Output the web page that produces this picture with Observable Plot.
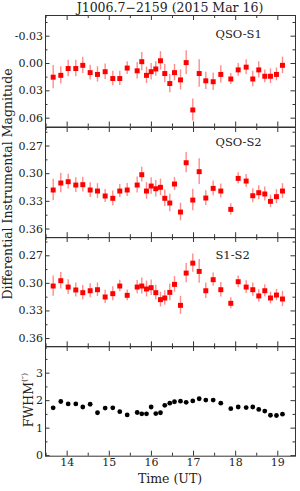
<!DOCTYPE html>
<html>
<head>
<meta charset="utf-8">
<script src="https://cdn.jsdelivr.net/npm/d3@7"></script>
<script src="https://cdn.jsdelivr.net/npm/@observablehq/plot@0.6"></script>
<style>
  html, body { margin: 0; padding: 0; background: #fff; }
  #chart { position: relative; width: 300px; height: 491px; font-family: "DejaVu Serif", serif; color: #222; overflow: hidden; }
  #chart svg { position: absolute; left: 0; overflow: visible; }
  .title { position: absolute; top: 0px; left: 45px; width: 250px; text-align: center; font-size: 12.5px; line-height: 15px; white-space: nowrap; }
  .ylab { position: absolute; white-space: nowrap; transform: translate(-50%, -50%) rotate(-90deg); font-size: 12.5px; line-height: 14px; }
  .xlab { position: absolute; left: 45px; width: 250px; text-align: center; font-size: 12.5px; top: 471.5px; line-height: 13px; }
</style>
</head>
<body>
<div id="chart">
  <div class="title">J1006.7−2159 (2015 Mar 16)</div>
  <div class="ylab" style="left:8px; top:184px;">Differential Instrumental Magnitude</div>
  <div class="ylab" style="left:27px; top:400px;">FWHM<sup style="font-size:8px;">(″)</sup></div>
  <div class="xlab">Time (UT)</div>
</div>
<script>
// ---- data ----
const times = [13.668, 13.849, 14.024, 14.205, 14.371, 14.546, 14.720, 14.902, 15.083, 15.249,
  15.425, 15.662, 15.771, 15.883, 15.994, 16.104, 16.215, 16.317, 16.436, 16.548,
  16.690, 16.825, 16.982, 17.134, 17.291, 17.466, 17.647, 17.884, 18.060, 18.249,
  18.406, 18.548, 18.691, 18.826, 18.968, 19.111];

const qsoS1 = [0.015, 0.013, 0.0055, 0.0055, 0.002, 0.010, 0.012, 0.009, 0.0165, 0.0165,
  0.005, 0.008, -0.002, 0.013, 0.009, 0.006, -0.003, 0.011, 0.022, 0.010,
  0.018, -0.001, 0.051, 0.011, 0.019, 0.020, 0.012, 0.017, 0.007, 0.004,
  0.017, 0.007, 0.014, 0.014, 0.012, 0.002];
const qsoS1Err = [0.0128, 0.0095, 0.009, 0.009, 0.009, 0.008, 0.0085, 0.0085, 0.008, 0.008,
  0.007, 0.009, 0.010, 0.009, 0.009, 0.008, 0.010, 0.010, 0.010, 0.009,
  0.011, 0.013, 0.012, 0.015, 0.0095, 0.0095, 0.0095, 0.006, 0.007, 0.008,
  0.0085, 0.009, 0.007, 0.008, 0.007, 0.009];

const qsoS2 = [0.3177, 0.3101, 0.3087, 0.3123, 0.3119, 0.3177, 0.3188, 0.3242, 0.3267, 0.3188,
  0.3177, 0.3123, 0.3011, 0.3188, 0.3134, 0.3163, 0.3148, 0.3267, 0.3318, 0.3112,
  0.3416, 0.2881, 0.3286, 0.2978, 0.3264, 0.3159, 0.3188, 0.3387, 0.3051, 0.3080,
  0.3239, 0.3206, 0.3220, 0.3300, 0.3249, 0.3188];
const qsoS2Err = [0.0116, 0.0105, 0.008, 0.008, 0.008, 0.008, 0.008, 0.007, 0.008, 0.007,
  0.007, 0.0087, 0.008, 0.009, 0.009, 0.009, 0.009, 0.009, 0.0095, 0.007,
  0.0095, 0.011, 0.0117, 0.014, 0.008, 0.008, 0.0076, 0.006, 0.006, 0.007,
  0.0076, 0.0076, 0.0076, 0.0067, 0.0076, 0.008];

const s1s2 = [0.3029, 0.2971, 0.3040, 0.3072, 0.3101, 0.3080, 0.3069, 0.3148, 0.3112, 0.3029,
  0.3130, 0.3040, 0.3029, 0.3061, 0.3047, 0.3101, 0.3177, 0.3159, 0.3098, 0.3011,
  0.3239, 0.2888, 0.2780, 0.2870, 0.3080, 0.2960, 0.3069, 0.3217, 0.2982, 0.3040,
  0.3069, 0.3137, 0.3080, 0.3159, 0.3127, 0.3170];
const s1s2Err = [0.011, 0.009, 0.008, 0.0076, 0.0078, 0.0076, 0.0074, 0.0072, 0.0076, 0.0063,
  0.0058, 0.0072, 0.0087, 0.0087, 0.0085, 0.008, 0.008, 0.008, 0.009, 0.0085,
  0.0098, 0.0105, 0.0099, 0.013, 0.0085, 0.0072, 0.0078, 0.006, 0.0063, 0.0069,
  0.0072, 0.0067, 0.0065, 0.0063, 0.0061, 0.0083];

const fwhm = [1.74, 1.97, 1.88, 1.88, 1.77, 1.87, 1.56, 1.73, 1.74, 1.60,
  1.48, 1.57, 1.52, 1.52, 1.77, 1.53, 1.56, 1.83, 1.91, 1.96,
  1.98, 1.94, 1.99, 2.07, 2.02, 2.02, 1.91, 1.71, 1.77, 1.75,
  1.77, 1.68, 1.62, 1.47, 1.46, 1.51];

const panelLabels = ["QSO-S1", "QSO-S2", "S1-S2"];
const xTicks = [14, 15, 16, 17, 18, 19];
const xMinorTicks = [13.5, 14.5, 15.5, 16.5, 17.5, 18.5];
const xTickLabels = ["14", "15", "16", "17", "18", "19"];
const yTicksS1 = [-0.03, 0.00, 0.03, 0.06];
const yTickLabelsS1 = ["-0.03", "0.00", "0.03", "0.06"];
const yMinorS1 = [-0.045, -0.015, 0.015, 0.045];
const yTicksMag = [0.27, 0.30, 0.33, 0.36];
const yTickLabelsMag = ["0.27", "0.30", "0.33", "0.36"];
const yMinorMag = [0.255, 0.285, 0.315, 0.345];
const yTicksFwhm = [0, 1, 2, 3];
const yTickLabelsFwhm = ["0", "1", "2", "3"];
const yMinorFwhm = [0.5, 1.5, 2.5, 3.5];

// ---- layout ----
const W = 300, ML = 45, MR = 5;
const innerW = W - ML - MR;
const xDomain = [13.486, 19.42];
const frameColor = "#333";
const chart = document.getElementById("chart");

function panel({top, h, padB = 2, yDomain, reverse, marks, yTicks, yLabels, yMinor, label, labelDy, xAxis = false}) {
  const padT = 2;
  const fmt = d => yLabels[yTicks.indexOf(d)];
  const allMarks = [
    ...marks,
    // inward y ticks, left and right
    Plot.tickY(yTicks, {stroke: frameColor, insetRight: innerW - 4.5}),
    Plot.tickY(yTicks, {stroke: frameColor, insetLeft: innerW - 4.5}),
    Plot.tickY(yMinor, {stroke: frameColor, insetRight: innerW - 2.5}),
    Plot.tickY(yMinor, {stroke: frameColor, insetLeft: innerW - 2.5}),
    // inward x ticks, top and bottom
    Plot.tickX(xTicks, {stroke: frameColor, insetTop: h - 5}),
    Plot.tickX(xTicks, {stroke: frameColor, insetBottom: h - 5}),
    Plot.tickX(xMinorTicks, {stroke: frameColor, insetTop: h - 3}),
    Plot.tickX(xMinorTicks, {stroke: frameColor, insetBottom: h - 3}),
    Plot.axisY(yTicks, {anchor: "left", tickSize: 0, tickPadding: 2.5, tickFormat: fmt, label: null, fontSize: 11, fill: "#222"}),
    Plot.frame({stroke: frameColor, strokeWidth: 1})
  ];
  if (label) {
    allMarks.push(Plot.text([label], {frameAnchor: "top-left", dx: 170, dy: labelDy, fontSize: 11.5, fill: "#222", textAnchor: "start"}));
  }
  if (xAxis) {
    allMarks.push(Plot.axisX(xTicks, {anchor: "bottom", tickSize: 0, tickPadding: 1.5, tickFormat: d => xTickLabels[xTicks.indexOf(d)], label: null, fontSize: 11, fill: "#222"}));
  }
  const svg = Plot.plot({
    width: W,
    height: h + padT + padB,
    marginLeft: ML, marginRight: MR, marginTop: padT, marginBottom: padB,
    x: {domain: xDomain, axis: null, label: null},
    y: {domain: yDomain, reverse, axis: null, label: null},
    style: {fontFamily: "DejaVu Serif, serif", fontSize: "11px", background: "transparent", overflow: "visible", color: "#222"},
    marks: allMarks
  });
  svg.style.top = (top - padT) + "px";
  chart.appendChild(svg);
}

function magData(vals, errs) {
  return times.map((t, i) => ({t, v: vals[i], lo: vals[i] - errs[i], hi: vals[i] + errs[i]}));
}

function magMarks(data) {
  return [
    Plot.ruleX(data, {x: "t", y1: "lo", y2: "hi", stroke: "#ff8c8c", strokeWidth: 1.4}),
    Plot.dot(data, {x: "t", y: "v", symbol: "square", fill: "#ff0000", r: 2.8})
  ];
}

panel({top: 15, h: 111.5, yDomain: [-0.0527, 0.0697], reverse: true,
  marks: magMarks(magData(qsoS1, qsoS1Err)),
  yTicks: yTicksS1, yLabels: yTickLabelsS1, yMinor: yMinorS1, label: panelLabels[0], labelDy: 14});

panel({top: 126.5, h: 110.2, yDomain: [0.2499, 0.3694], reverse: true,
  marks: magMarks(magData(qsoS2, qsoS2Err)),
  yTicks: yTicksMag, yLabels: yTickLabelsMag, yMinor: yMinorMag, label: panelLabels[1], labelDy: 10});

panel({top: 236.7, h: 109.3, yDomain: [0.2501, 0.369], reverse: true,
  marks: magMarks(magData(s1s2, s1s2Err)),
  yTicks: yTicksMag, yLabels: yTickLabelsMag, yMinor: yMinorMag, label: panelLabels[2], labelDy: 13});

const fwhmData = times.map((t, i) => ({t, v: fwhm[i]}));
panel({top: 346, h: 109.7, padB: 20, yDomain: [-0.02, 3.97], reverse: false,
  marks: [Plot.dot(fwhmData, {x: "t", y: "v", fill: "#000", r: 2.4})],
  yTicks: yTicksFwhm, yLabels: yTickLabelsFwhm, yMinor: yMinorFwhm, xAxis: true});
</script>
</body>
</html>
